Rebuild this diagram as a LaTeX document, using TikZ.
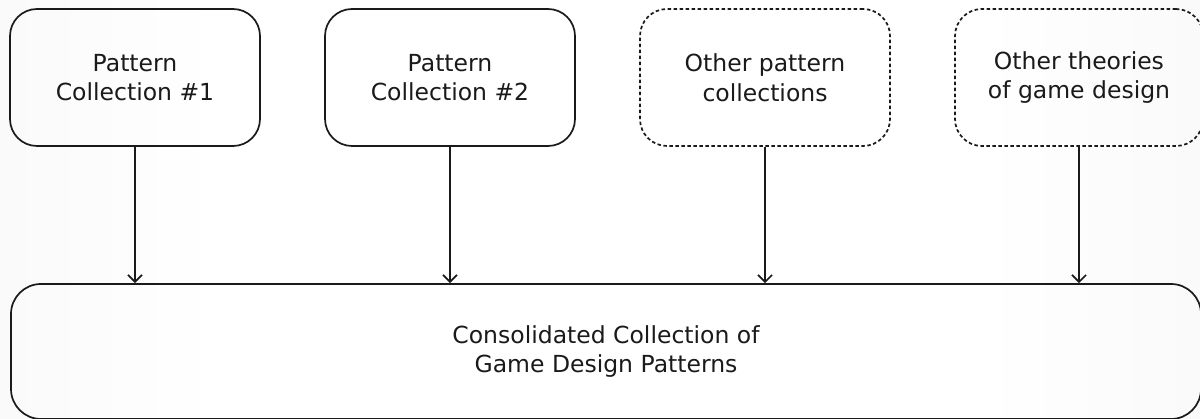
\documentclass[tikz,border=0pt]{standalone}
\usepackage{fontspec}
\setmainfont{DejaVu Sans}
\usetikzlibrary{arrows.meta}
\definecolor{ink}{HTML}{1A1A1A}
\tikzset{
  box/.style={draw=ink, line width=1.7pt, rounded corners=27pt, minimum height=137pt,
    align=center, text=ink, font=\fontsize{23.5}{29.5}\selectfont, inner sep=0pt},
  dbox/.style={box, dash pattern=on 3.5pt off 2.5pt},
  arr/.style={draw=ink, line width=1.7pt, -{Straight Barb[length=7pt,width=14pt,line width=1.7pt]}}
}
\begin{document}
\begin{tikzpicture}[x=1pt,y=-1pt]
\useasboundingbox (0,0) rectangle (1200,419);
\shade[left color=gray!4, right color=white] (0,0) rectangle (220,419);
\shade[left color=white, right color=gray!4] (980,0) rectangle (1200,419);
\begin{scope}
\clip (0,0) rectangle (1200,419);
\node[box, minimum width=250pt] (b1) at (135,77.5) {Pattern\\Collection \#1};
\node[box, minimum width=250pt] (b2) at (450,77.5) {Pattern\\Collection \#2};
\node[dbox, minimum width=250pt] (b3) at (765,77.5) {Other pattern\\collections};
\node[dbox, minimum width=248pt] (b4) at (1079,77.5) {Other theories\\of game design};
\node[box, rounded corners=30pt, minimum width=1190pt, minimum height=135pt] (big) at (606,351.5) {Consolidated Collection of\\Game Design Patterns};
\draw[arr] (b1.south) -- (b1.south |- big.north);
\draw[arr] (b2.south) -- (b2.south |- big.north);
\draw[arr] (b3.south) -- (b3.south |- big.north);
\draw[arr] (b4.south) -- (b4.south |- big.north);
\end{scope}
\end{tikzpicture}
\end{document}
